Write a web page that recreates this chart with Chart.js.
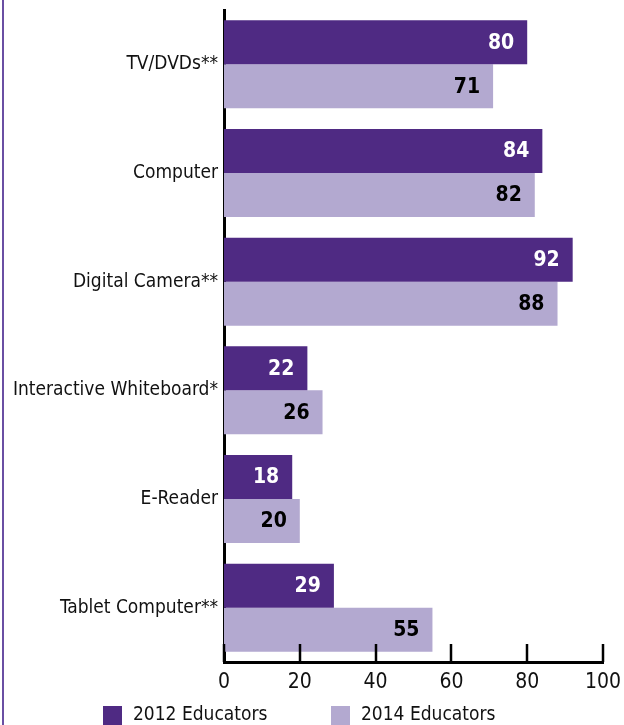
<!DOCTYPE html>
<html>
<head>
<meta charset="utf-8">
<script src="https://cdn.jsdelivr.net/npm/chart.js@4/dist/chart.umd.min.js"></script>
<style>
  html, body { margin: 0; padding: 0; background: #fff; }
  #wrap { position: relative; width: 624px; height: 725px; }
  #edge { position: absolute; left: 2px; top: 0; width: 2px; height: 725px; background: #6a4fa3; }
  canvas { display: block; }
</style>
</head>
<body>
<div id="wrap">
  <div id="edge"></div>
  <canvas id="c" width="624" height="725"></canvas>
</div>
<script>
// Share of educators using each device (percent)
const categories = ['TV/DVDs**', 'Computer', 'Digital Camera**', 'Interactive Whiteboard*', 'E-Reader', 'Tablet Computer**'];
const educators2012 = [80, 84, 92, 22, 18, 29];
const educators2014 = [71, 82, 88, 26, 20, 55];
const seriesNames = ['2012 Educators', '2014 Educators'];
const xTicks = [0, 20, 40, 60, 80, 100];

const DARK = '#4f2a83';
const LIGHT = '#b3a9d0';
const FONT = "'Liberation Sans Narrow', 'Arial Narrow', 'DejaVu Sans Condensed', sans-serif";

// Value labels drawn inside the end of each bar
const valueLabels = {
  id: 'valueLabels',
  afterDatasetsDraw(chart) {
    const ctx = chart.ctx;
    ctx.save();
    ctx.font = 'bold 21px ' + FONT;
    ctx.textAlign = 'right';
    ctx.textBaseline = 'middle';
    chart.data.datasets.forEach((ds, i) => {
      const meta = chart.getDatasetMeta(i);
      ctx.fillStyle = i === 0 ? '#ffffff' : '#000000';
      meta.data.forEach((bar, j) => {
        ctx.fillText(String(ds.data[j]), bar.x - 13, bar.y + 1);
      });
    });
    ctx.restore();
  }
};

// Tick marks pointing up from the value axis into the plot
const innerTicks = {
  id: 'innerTicks',
  afterDraw(chart) {
    const ctx = chart.ctx;
    const sx = chart.scales.x;
    const bottom = chart.chartArea.bottom;
    ctx.save();
    ctx.strokeStyle = '#000';
    ctx.lineWidth = 2.5;
    xTicks.forEach(v => {
      const px = Math.round(sx.getPixelForValue(v));
      ctx.beginPath();
      ctx.moveTo(px, bottom);
      ctx.lineTo(px, bottom - 18);
      ctx.stroke();
    });
    ctx.restore();
  }
};

// Legend row under the axis
const bottomLegend = {
  id: 'bottomLegend',
  afterDraw(chart) {
    const ctx = chart.ctx;
    const items = [
      { x: 103, color: DARK, text: seriesNames[0] },
      { x: 331, color: LIGHT, text: seriesNames[1] }
    ];
    ctx.save();
    ctx.font = '19px ' + FONT;
    ctx.textBaseline = 'middle';
    ctx.textAlign = 'left';
    items.forEach(it => {
      ctx.fillStyle = it.color;
      ctx.fillRect(it.x, 706, 19, 19);
      ctx.fillStyle = '#111';
      ctx.fillText(it.text, it.x + 30, 715);
    });
    ctx.restore();
  }
};

new Chart(document.getElementById('c'), {
  type: 'bar',
  data: {
    labels: categories,
    datasets: [
      { label: seriesNames[0], data: educators2012, backgroundColor: DARK },
      { label: seriesNames[1], data: educators2014, backgroundColor: LIGHT }
    ]
  },
  options: {
    indexAxis: 'y',
    responsive: false,
    animation: false,
    devicePixelRatio: 1,
    layout: { padding: { top: 10, right: 21, bottom: 0, left: 0 } },
    datasets: { bar: { categoryPercentage: 0.81, barPercentage: 1 } },
    plugins: { legend: { display: false }, tooltip: { enabled: false } },
    scales: {
      x: {
        min: 0, max: 100,
        afterBuildTicks(scale) { scale.ticks = xTicks.map(v => ({ value: v })); },
        afterFit(scale) {
          scale.height = 63;
          scale.paddingLeft = 0;
          scale.paddingRight = 0;
        },
        grid: { display: false, drawTicks: false },
        border: { display: true, color: '#000', width: 3 },
        ticks: { color: '#111', padding: 8, font: { family: FONT, size: 21 } }
      },
      y: {
        afterFit(scale) {
          scale.width = 224;
          scale.paddingTop = 0;
          scale.paddingBottom = 0;
        },
        grid: { display: false, drawTicks: false },
        border: { display: true, color: '#000', width: 3 },
        ticks: { color: '#111', padding: 6, font: { family: FONT, size: 19 } }
      }
    }
  },
  plugins: [valueLabels, innerTicks, bottomLegend]
});
</script>
</body>
</html>
